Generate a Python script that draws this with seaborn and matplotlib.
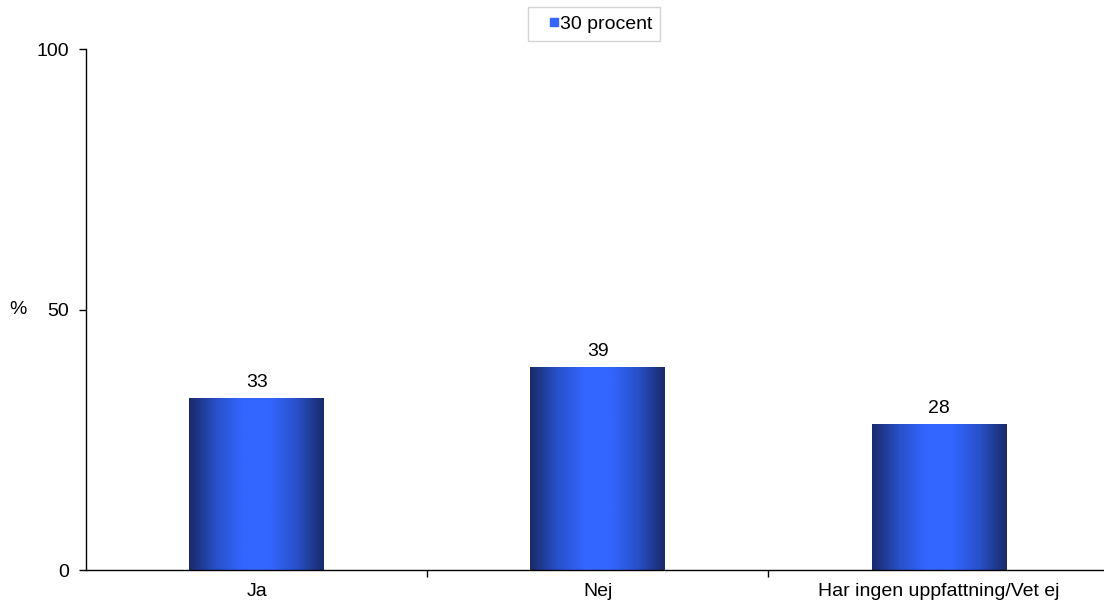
import numpy as np
import pandas as pd
import matplotlib.pyplot as plt
import seaborn as sns
from matplotlib.colors import LinearSegmentedColormap
from matplotlib.lines import Line2D

sns.set_style("white")
plt.rcParams['font.family'] = ['Liberation Sans', 'DejaVu Sans']
plt.rcParams['text.color'] = 'black'
plt.rcParams['xtick.color'] = 'black'
plt.rcParams['ytick.color'] = 'black'
plt.rcParams['axes.labelcolor'] = 'black'

# data
categories = ["Ja", "Nej", "Har ingen uppfattning/Vet ej"]
values = [33, 39, 28]
series_name = "30 procent"

df = pd.DataFrame({"svar": categories, "procent": values})

fig = plt.figure(figsize=(11.04, 6.06), dpi=100)
ax = fig.add_axes([0.078, 0.0594, 0.927, 0.8597])

sns.barplot(data=df, x="svar", y="procent", color="#3366ff", width=0.395,
            saturation=1, ax=ax)

# gradient fill on each bar (dark edges, bright middle)
cmap = LinearSegmentedColormap.from_list(
    "bar", ["#1a2a6a", "#2850c8", "#3366ff", "#3366ff", "#2850c8", "#1a2a6a"])
grad = np.linspace(0, 1, 256).reshape(1, -1)
for bar in ax.patches:
    x0, y0 = bar.get_x(), bar.get_y()
    w, h = bar.get_width(), bar.get_height()
    im = ax.imshow(grad, cmap=cmap, aspect="auto", extent=[x0, x0 + w, y0, y0 + h],
                   zorder=bar.get_zorder() + 0.1)
    im.set_clip_path(bar)

for bar, v in zip(ax.patches, values):
    ax.text(bar.get_x() + bar.get_width() / 2, v + 1.3, str(v),
            ha="center", va="bottom", fontsize=14)

ax.set_xlim(-0.5, 2.5)
ax.set_ylim(0, 100)
ax.set_yticks([0, 50, 100])
ax.set_xlabel("")
ax.set_ylabel("%", rotation=0, fontsize=14, va="center", ha="center")
ax.yaxis.set_label_coords(-0.067, 0.5)

sns.despine(ax=ax, top=True, right=True)
for s in ["left", "bottom"]:
    ax.spines[s].set_color("black")
    ax.spines[s].set_linewidth(1)

ax.tick_params(axis="y", length=5, width=1, color="black", labelsize=14, pad=7, left=True)
ax.tick_params(axis="x", which="major", length=0, labelsize=14, pad=9)
ax.set_xticks([0.5, 1.5], minor=True)
ax.tick_params(axis="x", which="minor", length=5, width=1, color="black", bottom=True)

handle = Line2D([], [], marker="s", color="#3366ff", linestyle="none", markersize=6)
leg = ax.legend([handle], [series_name], loc="center", bbox_to_anchor=(0.4964, 1.048),
                frameon=True, fontsize=14, handlelength=1.8, handletextpad=-0.6,
                borderpad=0.4, borderaxespad=0, fancybox=False)
leg.get_frame().set_edgecolor("#c8c8c8")
leg.get_frame().set_linewidth(1)

fig.savefig("out.png", dpi=100)
